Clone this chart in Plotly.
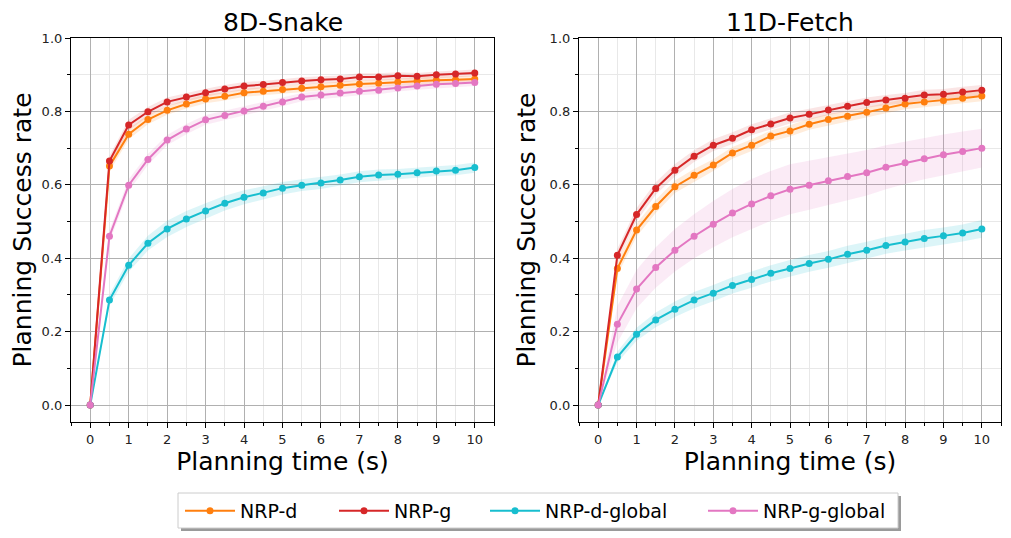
import plotly.graph_objects as go

# ---------------- data ----------------
t = [0, 0.5, 1, 1.5, 2, 2.5, 3, 3.5, 4, 4.5, 5, 5.5, 6, 6.5, 7, 7.5, 8, 8.5, 9, 9.5, 10]
x_ticks = [0, 1, 2, 3, 4, 5, 6, 7, 8, 9, 10]
y_ticks = [0.0, 0.2, 0.4, 0.6, 0.8, 1.0]
y_tick_labels = ["0.0", "0.2", "0.4", "0.6", "0.8", "1.0"]
series_names = ["NRP-d", "NRP-g", "NRP-d-global", "NRP-g-global"]
panel_titles = ["8D-Snake", "11D-Fetch"]

# 8D-Snake
snake_nrp_d = [0, 0.651, 0.738, 0.778, 0.803, 0.820, 0.834, 0.841, 0.851, 0.855, 0.860,
               0.863, 0.867, 0.871, 0.875, 0.877, 0.880, 0.883, 0.885, 0.886, 0.888]
snake_nrp_g = [0, 0.665, 0.763, 0.799, 0.826, 0.839, 0.851, 0.861, 0.869, 0.873, 0.879,
               0.883, 0.886, 0.888, 0.894, 0.894, 0.897, 0.896, 0.900, 0.902, 0.905]
snake_nrp_d_global = [0, 0.286, 0.381, 0.441, 0.480, 0.507, 0.529, 0.550, 0.566, 0.578, 0.591,
                      0.599, 0.605, 0.613, 0.622, 0.627, 0.629, 0.633, 0.638, 0.640, 0.647]
snake_nrp_g_global = [0, 0.460, 0.599, 0.669, 0.722, 0.752, 0.777, 0.789, 0.801, 0.814, 0.826,
                      0.839, 0.845, 0.850, 0.855, 0.858, 0.864, 0.869, 0.874, 0.876, 0.879]
snake_nrp_d_std = [0, 0.015, 0.014, 0.013, 0.012, 0.012, 0.012, 0.011, 0.011, 0.011, 0.011,
                   0.010, 0.010, 0.010, 0.010, 0.010, 0.010, 0.010, 0.010, 0.010, 0.010]
snake_nrp_g_std = [0, 0.014, 0.014, 0.013, 0.012, 0.012, 0.011, 0.011, 0.011, 0.010, 0.010,
                   0.010, 0.010, 0.010, 0.010, 0.010, 0.010, 0.009, 0.009, 0.009, 0.009]
snake_nrp_d_global_std = [0, 0.015, 0.018, 0.020, 0.022, 0.022, 0.021, 0.020, 0.019, 0.018, 0.017,
                          0.016, 0.016, 0.015, 0.015, 0.015, 0.014, 0.014, 0.014, 0.014, 0.014]
snake_nrp_g_global_std = [0, 0.016, 0.016, 0.015, 0.014, 0.014, 0.013, 0.013, 0.012, 0.012, 0.012,
                          0.011, 0.011, 0.011, 0.011, 0.011, 0.010, 0.010, 0.010, 0.010, 0.010]

# 11D-Fetch
fetch_nrp_d = [0, 0.372, 0.477, 0.541, 0.595, 0.626, 0.654, 0.687, 0.708, 0.733, 0.747,
               0.765, 0.778, 0.787, 0.798, 0.809, 0.820, 0.826, 0.830, 0.836, 0.842]
fetch_nrp_g = [0, 0.408, 0.519, 0.590, 0.640, 0.678, 0.708, 0.727, 0.750, 0.766, 0.782,
               0.792, 0.804, 0.814, 0.824, 0.831, 0.836, 0.845, 0.847, 0.853, 0.858]
fetch_nrp_d_global = [0, 0.131, 0.193, 0.232, 0.261, 0.286, 0.305, 0.326, 0.342, 0.359, 0.372,
                      0.386, 0.397, 0.411, 0.422, 0.435, 0.444, 0.454, 0.461, 0.469, 0.480]
fetch_nrp_g_global = [0, 0.220, 0.316, 0.375, 0.422, 0.460, 0.493, 0.523, 0.548, 0.570, 0.588,
                      0.599, 0.611, 0.623, 0.633, 0.648, 0.660, 0.671, 0.682, 0.691, 0.700]
fetch_nrp_d_std = [0, 0.018, 0.018, 0.018, 0.017, 0.017, 0.016, 0.016, 0.016, 0.015, 0.015,
                   0.015, 0.015, 0.014, 0.014, 0.014, 0.014, 0.014, 0.014, 0.014, 0.014]
fetch_nrp_g_std = [0, 0.018, 0.018, 0.017, 0.017, 0.016, 0.016, 0.016, 0.015, 0.015, 0.015,
                   0.015, 0.014, 0.014, 0.014, 0.014, 0.014, 0.014, 0.014, 0.014, 0.014]
fetch_nrp_d_global_std = [0, 0.015, 0.018, 0.020, 0.021, 0.022, 0.022, 0.022, 0.022, 0.022, 0.023,
                          0.023, 0.023, 0.023, 0.023, 0.023, 0.023, 0.023, 0.023, 0.023, 0.024]
fetch_nrp_g_global_std = [0, 0.050, 0.052, 0.055, 0.058, 0.060, 0.063, 0.066, 0.068, 0.068, 0.068,
                          0.067, 0.066, 0.064, 0.062, 0.060, 0.058, 0.056, 0.055, 0.054, 0.053]

colors = ["#ff7f0e", "#d62728", "#17becf", "#e377c2"]
band_colors = ["rgba(255,127,14,0.15)", "rgba(214,39,40,0.12)",
               "rgba(23,190,207,0.15)", "rgba(227,119,194,0.15)"]

panels = [
    ([snake_nrp_d, snake_nrp_g, snake_nrp_d_global, snake_nrp_g_global],
     [snake_nrp_d_std, snake_nrp_g_std, snake_nrp_d_global_std, snake_nrp_g_global_std]),
    ([fetch_nrp_d, fetch_nrp_g, fetch_nrp_d_global, fetch_nrp_g_global],
     [fetch_nrp_d_std, fetch_nrp_g_std, fetch_nrp_d_global_std, fetch_nrp_g_global_std]),
]

fig = go.Figure()
# the page adds an 8px body margin, so the figure is 8px smaller and
# every pixel position below is taken relative to that offset
OFF = 8
W, H = 1011 - OFF, 538 - OFF
FONT = "DejaVu Sans"


def px_x(v):
    return (v - OFF) / W


def px_y(v):
    return 1 - (v - OFF) / H


legend_ids = ["legend", "legend2", "legend3", "legend4"]
legend_left = [180, 334, 485, 703]   # page x of each legend entry

for p, (means, stds) in enumerate(panels):
    xa = "x" if p == 0 else "x2"
    ya = "y" if p == 0 else "y2"
    for i, (m, s) in enumerate(zip(means, stds)):
        upper = [a + b for a, b in zip(m, s)]
        lower = [a - b for a, b in zip(m, s)]
        fig.add_trace(go.Scatter(
            x=t + t[::-1], y=upper + lower[::-1], fill="toself",
            fillcolor=band_colors[i], line=dict(width=0), mode="lines",
            hoverinfo="skip", showlegend=False, xaxis=xa, yaxis=ya))
    for i, m in enumerate(means):
        fig.add_trace(go.Scatter(
            x=t, y=m, mode="lines+markers", name=series_names[i],
            line=dict(color=colors[i], width=2),
            marker=dict(color=colors[i], size=7, symbol="circle"),
            showlegend=(p == 0), legend=legend_ids[i], xaxis=xa, yaxis=ya))

L1, R1 = px_x(71), px_x(494)
L2, R2 = px_x(579), px_x(1001)
B, T = px_y(422), px_y(38)

axis_common = dict(
    range=[-0.5, 10.5], tickvals=x_ticks, ticktext=[str(v) for v in x_ticks],
    showgrid=True, gridcolor="#b0b0b0", gridwidth=1,
    showline=True, linecolor="black", linewidth=1.2, mirror=True,
    ticks="outside", ticklen=5, tickcolor="black",
    tickfont=dict(family=FONT, size=13, color="#222"),
    zeroline=False, automargin=False,
    minor=dict(dtick=0.5, tick0=0, showgrid=True, gridcolor="#e8e8e8", gridwidth=1,
               ticks="outside", ticklen=3, tickcolor="black"),
    title=dict(text="Planning time (s)", font=dict(family=FONT, size=25, color="black"), standoff=6),
)
yaxis_common = dict(
    range=[-0.046, 1.0], tickvals=y_ticks, ticktext=y_tick_labels,
    showgrid=True, gridcolor="#b0b0b0", gridwidth=1,
    showline=True, linecolor="black", linewidth=1.2, mirror=True,
    ticks="outside", ticklen=5, tickcolor="black",
    tickfont=dict(family=FONT, size=13, color="#222"),
    zeroline=False, automargin=False,
    minor=dict(dtick=0.1, tick0=0, showgrid=True, gridcolor="#e8e8e8", gridwidth=1,
               ticks="outside", ticklen=3, tickcolor="black"),
    title=dict(text="Planning Success rate", font=dict(family=FONT, size=25, color="black"), standoff=6),
)

legend_style = dict(
    orientation="h", yanchor="middle", xanchor="left",
    font=dict(family=FONT, size=19, color="black"),
    bgcolor="rgba(0,0,0,0)", borderwidth=0, itemwidth=50,
)
legends = {}
for lid, lx in zip(legend_ids, legend_left):
    legends[lid] = dict(x=px_x(lx), y=px_y(511), **legend_style)

fig.update_layout(
    width=W, height=H,
    margin=dict(l=0, r=0, t=0, b=0, autoexpand=False),
    paper_bgcolor="white", plot_bgcolor="white",
    font=dict(family=FONT),
    xaxis=dict(domain=[L1, R1], anchor="y", **axis_common),
    yaxis=dict(domain=[B, T], anchor="x", **yaxis_common),
    xaxis2=dict(domain=[L2, R2], anchor="y2", **axis_common),
    yaxis2=dict(domain=[B, T], anchor="x2", **yaxis_common),
    annotations=[
        dict(text=panel_titles[0], x=(L1 + R1) / 2, y=px_y(23), xref="paper", yref="paper",
             showarrow=False, font=dict(family=FONT, size=25, color="black"),
             xanchor="center", yanchor="middle"),
        dict(text=panel_titles[1], x=(L2 + R2) / 2, y=px_y(23), xref="paper", yref="paper",
             showarrow=False, font=dict(family=FONT, size=25, color="black"),
             xanchor="center", yanchor="middle"),
    ],
    shapes=[
        # legend shadow
        dict(type="rect", xref="paper", yref="paper",
             x0=px_x(181), x1=px_x(901), y0=px_y(531), y1=px_y(496),
             fillcolor="#9a9a9a", line=dict(width=0), layer="below"),
        # legend frame
        dict(type="rect", xref="paper", yref="paper",
             x0=px_x(178), x1=px_x(898), y0=px_y(528), y1=px_y(493),
             fillcolor="white", line=dict(color="#cccccc", width=1), layer="below"),
    ],
    **legends,
)

fig.write_html("out.html")
